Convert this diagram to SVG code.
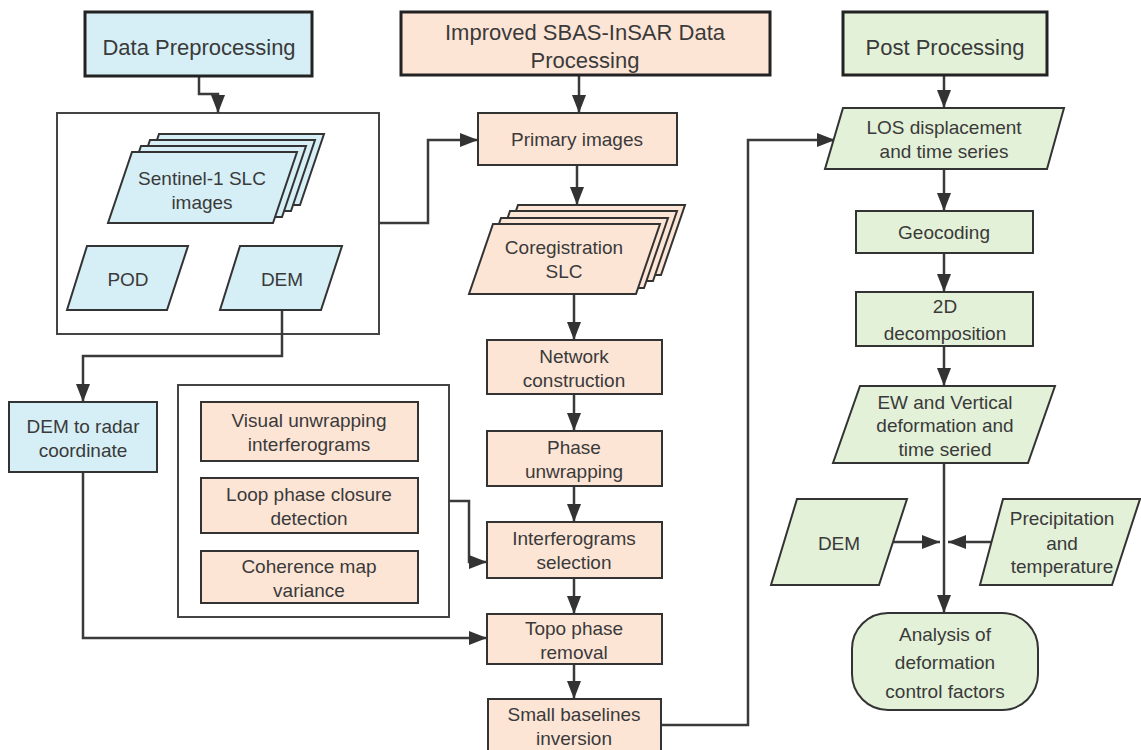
<svg xmlns="http://www.w3.org/2000/svg" width="1141" height="750" viewBox="0 0 1141 750">
<defs>
<style>
text{font-family:"Liberation Sans",Arial,sans-serif;font-size:19px;fill:#3a3a3a;text-anchor:middle}
.h{font-size:22px}
.hb{stroke:#222;stroke-width:3}
.n{stroke:#333;stroke-width:2}
.b{fill:#d6eff6}
.o{fill:#fde5d6}
.g{fill:#e3f1d8}
.ct{fill:none;stroke:#444;stroke-width:2}
.c{fill:none;stroke:#3a3a3a;stroke-width:2.5}
.ca{fill:none;stroke:#3a3a3a;stroke-width:2.5;marker-end:url(#ah)}
</style>
<marker id="ah" markerUnits="userSpaceOnUse" markerWidth="20" markerHeight="16" viewBox="0 0 20 16" refX="18" refY="8" orient="auto">
<path d="M0,1 L18,8 L0,15 Z" fill="#333"/>
</marker>
</defs>
<rect width="1141" height="750" fill="#fff"/>

<!-- containers -->
<rect x="57" y="113" width="322" height="221" class="ct"/>
<rect x="178" y="385" width="271" height="232" class="ct"/>

<g id="connectors">
<path class="ca" d="M199,76 V94 H218 V113"/>
<path class="ca" d="M379,223 H428 V140 H478"/>
<path class="ca" d="M282,310 V356 H83 V402"/>
<path class="ca" d="M83,472 V638 H487"/>
<path class="ca" d="M449,501 H469 V562 H487"/>
<path class="ca" d="M579,75 V113"/>
<path class="ca" d="M577,165 V205"/>
<path class="ca" d="M574,294 V340"/>
<path class="ca" d="M574,394 V431"/>
<path class="ca" d="M574,486 V522"/>
<path class="ca" d="M574,578 V614"/>
<path class="ca" d="M574,664 V699"/>
<path class="ca" d="M661,725 H748 V140 H835"/>
<path class="ca" d="M944,75 V108"/>
<path class="ca" d="M944,169 V211"/>
<path class="ca" d="M944,253 V292"/>
<path class="ca" d="M944,346 V386"/>
<path class="ca" d="M944,463 V613"/>
<path class="ca" d="M893,542 H940"/>
<path class="ca" d="M993,542 H948"/>
</g>

<g id="data-preprocessing">
<rect x="85" y="12" width="227" height="64" class="b hb"/>
<text class="h" x="199" y="55">Data Preprocessing</text>
</g>

<g id="sentinel">
<polygon points="159,134 324,134 300,205 135,205" class="b n"/>
<polygon points="150,140 315,140 291,211 126,211" class="b n"/>
<polygon points="141,146 306,146 282,217 117,217" class="b n"/>
<polygon points="132,152 297,152 273,223 108,223" class="b n"/>
<text x="202" y="185">Sentinel-1 SLC</text>
<text x="202" y="209">images</text>
</g>

<g id="pod">
<polygon points="87,246 188,246 167,310 67,310" class="b n"/>
<text x="128" y="286">POD</text>
</g>

<g id="dem-left">
<polygon points="240,246 342,246 321,310 220,310" class="b n"/>
<text x="282" y="286">DEM</text>
</g>

<g id="dem-radar">
<rect x="9" y="402" width="148" height="70" class="b n"/>
<text x="83" y="433">DEM to radar</text>
<text x="83" y="457">coordinate</text>
</g>

<g id="visual">
<rect x="201" y="402" width="217" height="59" class="o n"/>
<text x="309" y="427">Visual unwrapping</text>
<text x="309" y="451">interferograms</text>
</g>
<g id="loop">
<rect x="201" y="478" width="217" height="55" class="o n"/>
<text x="309" y="501">Loop phase closure</text>
<text x="309" y="525">detection</text>
</g>
<g id="coherence">
<rect x="201" y="551" width="217" height="52" class="o n"/>
<text x="309" y="573">Coherence map</text>
<text x="309" y="597">variance</text>
</g>

<g id="improved">
<rect x="401" y="12" width="369" height="63" class="o hb"/>
<text class="h" x="585" y="40">Improved SBAS-InSAR Data</text>
<text class="h" x="585" y="68">Processing</text>
</g>

<g id="primary">
<rect x="478" y="113" width="199" height="52" class="o n"/>
<text x="577" y="146">Primary images</text>
</g>

<g id="coregistration">
<polygon points="518,205 685,205 661,275 494,275" class="o n"/>
<polygon points="510,211 677,211 653,281 486,281" class="o n"/>
<polygon points="501,218 668,218 644,288 477,288" class="o n"/>
<polygon points="493,224 660,224 636,294 469,294" class="o n"/>
<text x="564" y="254">Coregistration</text>
<text x="564" y="278">SLC</text>
</g>

<g id="network">
<rect x="487" y="340" width="175" height="54" class="o n"/>
<text x="574" y="363">Network</text>
<text x="574" y="387">construction</text>
</g>
<g id="phase">
<rect x="487" y="431" width="175" height="55" class="o n"/>
<text x="574" y="454">Phase</text>
<text x="574" y="478">unwrapping</text>
</g>
<g id="interferograms">
<rect x="487" y="522" width="175" height="56" class="o n"/>
<text x="574" y="545">Interferograms</text>
<text x="574" y="569">selection</text>
</g>
<g id="topo">
<rect x="487" y="614" width="175" height="50" class="o n"/>
<text x="574" y="635">Topo phase</text>
<text x="574" y="659">removal</text>
</g>
<g id="sbi">
<rect x="488" y="699" width="173" height="60" class="o n"/>
<text x="574" y="721">Small baselines</text>
<text x="574" y="745">inversion</text>
</g>

<g id="post">
<rect x="843" y="12" width="204" height="63" class="g hb"/>
<text class="h" x="945" y="55">Post Processing</text>
</g>

<g id="los">
<polygon points="843,108 1064,108 1047,169 825,169" class="g n"/>
<text x="944" y="134">LOS displacement</text>
<text x="944" y="158">and time series</text>
</g>

<g id="geocoding">
<rect x="856" y="211" width="177" height="42" class="g n"/>
<text x="944" y="239">Geocoding</text>
</g>

<g id="decomp">
<rect x="856" y="292" width="177" height="54" class="g n"/>
<text x="945" y="313">2D</text>
<text x="945" y="340">decomposition</text>
</g>

<g id="ew">
<polygon points="860,386 1055,386 1028,463 833,463" class="g n"/>
<text x="945" y="409">EW and Vertical</text>
<text x="945" y="432">deformation and</text>
<text x="945" y="456">time seried</text>
</g>

<g id="dem-right">
<polygon points="797,499 907,499 879,585 771,585" class="g n"/>
<text x="839" y="550">DEM</text>
</g>

<g id="precip">
<polygon points="1003,499 1140,499 1112,585 980,585" class="g n"/>
<text x="1062" y="525">Precipitation</text>
<text x="1062" y="550">and</text>
<text x="1062" y="573">temperature</text>
</g>

<g id="analysis">
<rect x="852" y="613" width="186" height="97" rx="36" ry="36" class="g n"/>
<text x="945" y="641">Analysis of</text>
<text x="945" y="669">deformation</text>
<text x="945" y="698">control factors</text>
</g>
</svg>
